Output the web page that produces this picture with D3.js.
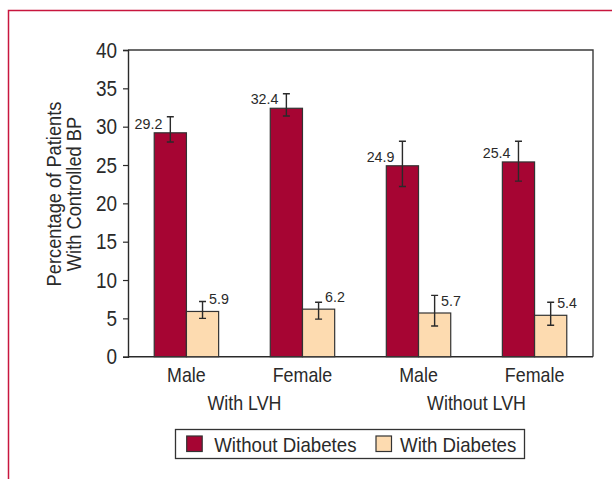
<!DOCTYPE html>
<html>
<head>
<meta charset="utf-8">
<script src="https://cdn.jsdelivr.net/npm/d3@7"></script>
<style>
  body { margin: 0; background: #fff; }
  svg text { fill: #2a2a2a; }
</style>
</head>
<body>
<svg id="chart" width="612" height="479"></svg>
<script>
// categories
var sexes = ["Male", "Female", "Male", "Female"];
var lvhGroups = ["With LVH", "Without LVH"];
var seriesNames = ["Without Diabetes", "With Diabetes"];
var yTicks = [0, 5, 10, 15, 20, 25, 30, 35, 40];

// series values (percent with controlled BP)
var withoutDiabetes = [29.2, 32.4, 24.9, 25.4];
var withDiabetes = [5.9, 6.2, 5.7, 5.4];

// error bar ends
var withoutLow = [28.0, 31.4, 22.2, 22.9];
var withoutHigh = [31.3, 34.3, 28.1, 28.1];
var withLow = [5.0, 4.9, 4.0, 4.1];
var withHigh = [7.2, 7.1, 8.0, 7.1];

var colors = ["#a60533", "#fddbb0"];
var font = "'Liberation Sans', Arial, sans-serif";

// the original type is a condensed sans; squeeze the glyphs to match
function squeeze(sel, k) {
    sel.each(function () {
        var w = this.getComputedTextLength();
        d3.select(this).attr("textLength", w * k).attr("lengthAdjust", "spacingAndGlyphs");
    });
}

var svg = d3.select("#chart");

// red frame round the figure
svg.append("path")
    .attr("d", "M8.5,479 L8.5,10.5 L612,10.5")
    .attr("fill", "none")
    .attr("stroke", "#c8163e")
    .attr("stroke-width", 1.5);

var plotL = 128, plotR = 593, plotT = 50, plotB = 356.7;

var y = d3.scaleLinear().domain([0, 40]).range([plotB, plotT]);

var x0 = d3.scaleBand()
    .domain(d3.range(sexes.length))
    .range([plotL, plotR])
    .paddingInner(0.445)
    .paddingOuter(0.226);

var x1 = d3.scaleBand()
    .domain([0, 1])
    .range([0, x0.bandwidth()]);

var rows = sexes.map(function (s, i) {
    return [
        {g: i, k: 0, v: withoutDiabetes[i], lo: withoutLow[i], hi: withoutHigh[i]},
        {g: i, k: 1, v: withDiabetes[i], lo: withLow[i], hi: withHigh[i]}
    ];
});
var marks = d3.merge(rows);

// plot box (top and right edges)
svg.append("path")
    .attr("d", "M" + plotL + "," + plotT + " L" + plotR + "," + plotT + " L" + plotR + "," + plotB)
    .attr("fill", "none")
    .attr("stroke", "#3a3a3a")
    .attr("stroke-width", 1.4);

// y axis
var yAxis = svg.append("g")
    .attr("transform", "translate(" + plotL + ",0)")
    .call(d3.axisLeft(y).tickValues(yTicks).tickSize(5).tickPadding(6));
yAxis.select(".domain").attr("stroke", "#2a2a2a").attr("stroke-width", 1.4);
yAxis.selectAll(".tick line").attr("stroke", "#2a2a2a").attr("stroke-width", 1.2);
yAxis.selectAll(".tick text")
    .style("font-family", font)
    .style("font-size", "22px")
    .attr("fill", "#2a2a2a")
    .call(squeeze, 0.86);

// x axis baseline
svg.append("line")
    .attr("x1", plotL).attr("x2", plotR)
    .attr("y1", plotB).attr("y2", plotB)
    .attr("stroke", "#2a2a2a")
    .attr("stroke-width", 1.4);

// bars
svg.append("g").selectAll("rect")
    .data(marks)
    .enter()
    .append("rect")
    .attr("x", function (d) { return x0(d.g) + x1(d.k); })
    .attr("width", x1.bandwidth())
    .attr("y", function (d) { return y(d.v); })
    .attr("height", function (d) { return y(0) - y(d.v); })
    .attr("fill", function (d) { return colors[d.k]; })
    .attr("stroke", "#333")
    .attr("stroke-width", 1.2);

// error bars
var cx = function (d) { return x0(d.g) + x1(d.k) + x1.bandwidth() / 2; };
svg.append("g").selectAll("path")
    .data(marks)
    .enter()
    .append("path")
    .attr("d", function (d) {
        var c = cx(d), a = y(d.hi), b = y(d.lo);
        return "M" + (c - 3.5) + "," + a + "H" + (c + 3.5) +
               "M" + c + "," + a + "V" + b +
               "M" + (c - 3.5) + "," + b + "H" + (c + 3.5);
    })
    .attr("fill", "none")
    .attr("stroke", "#2a2a2a")
    .attr("stroke-width", 1.4);

// value labels
svg.append("g").selectAll("text")
    .data(marks)
    .enter()
    .append("text")
    .attr("x", function (d) { return d.k === 0 ? cx(d) - 8 : cx(d) + 6.5; })
    .attr("y", function (d) { return d.k === 0 ? y(d.v) - 4 : y(d.v) - 7; })
    .attr("text-anchor", function (d) { return d.k === 0 ? "end" : "start"; })
    .style("font-family", font)
    .style("font-size", "15px")
    .text(function (d) { return d.v.toFixed(1); })
    .call(squeeze, 0.95);

// category labels
svg.append("g").selectAll("text")
    .data(sexes)
    .enter()
    .append("text")
    .attr("x", function (d, i) { return x0(i) + x0.bandwidth() / 2; })
    .attr("y", 381.5)
    .attr("text-anchor", "middle")
    .style("font-family", font)
    .style("font-size", "21px")
    .text(function (d) { return d; })
    .call(squeeze, 0.85);

svg.append("g").selectAll("text")
    .data(lvhGroups)
    .enter()
    .append("text")
    .attr("x", function (d, i) {
        var a = x0(i * 2) + x0.bandwidth() / 2, b = x0(i * 2 + 1) + x0.bandwidth() / 2;
        return (a + b) / 2;
    })
    .attr("y", 410)
    .attr("text-anchor", "middle")
    .style("font-family", font)
    .style("font-size", "21px")
    .text(function (d) { return d; })
    .call(squeeze, 0.85);

// y title
var title = svg.append("text")
    .attr("transform", "translate(54,194) rotate(-90)")
    .attr("text-anchor", "middle")
    .style("font-family", font)
    .style("font-size", "21px");
title.append("tspan").attr("x", 0).attr("dy", "0.35em").text("Percentage of Patients");
title.append("tspan").attr("x", 0).attr("dy", "19.5px").text("With Controlled BP");
title.selectAll("tspan").call(squeeze, 0.87);

// legend
var legend = svg.append("g");
legend.append("rect")
    .attr("x", 175.5).attr("y", 429.5)
    .attr("width", 349).attr("height", 29)
    .attr("fill", "#fff")
    .attr("stroke", "#333")
    .attr("stroke-width", 1.3);
var legX = [186.7, 376];
var item = legend.selectAll("g.item")
    .data(seriesNames)
    .enter()
    .append("g")
    .attr("class", "item")
    .attr("transform", function (d, i) { return "translate(" + legX[i] + ",436)"; });
item.append("rect")
    .attr("width", 15.5).attr("height", 15.5)
    .attr("fill", function (d, i) { return colors[i]; })
    .attr("stroke", "#333")
    .attr("stroke-width", 1.2);
item.append("text")
    .attr("x", function (d, i) { return i === 0 ? 27.5 : 24; })
    .attr("y", 15.5)
    .style("font-family", font)
    .style("font-size", "21px")
    .text(function (d) { return d; })
    .call(squeeze, 0.89);
</script>
</body>
</html>
